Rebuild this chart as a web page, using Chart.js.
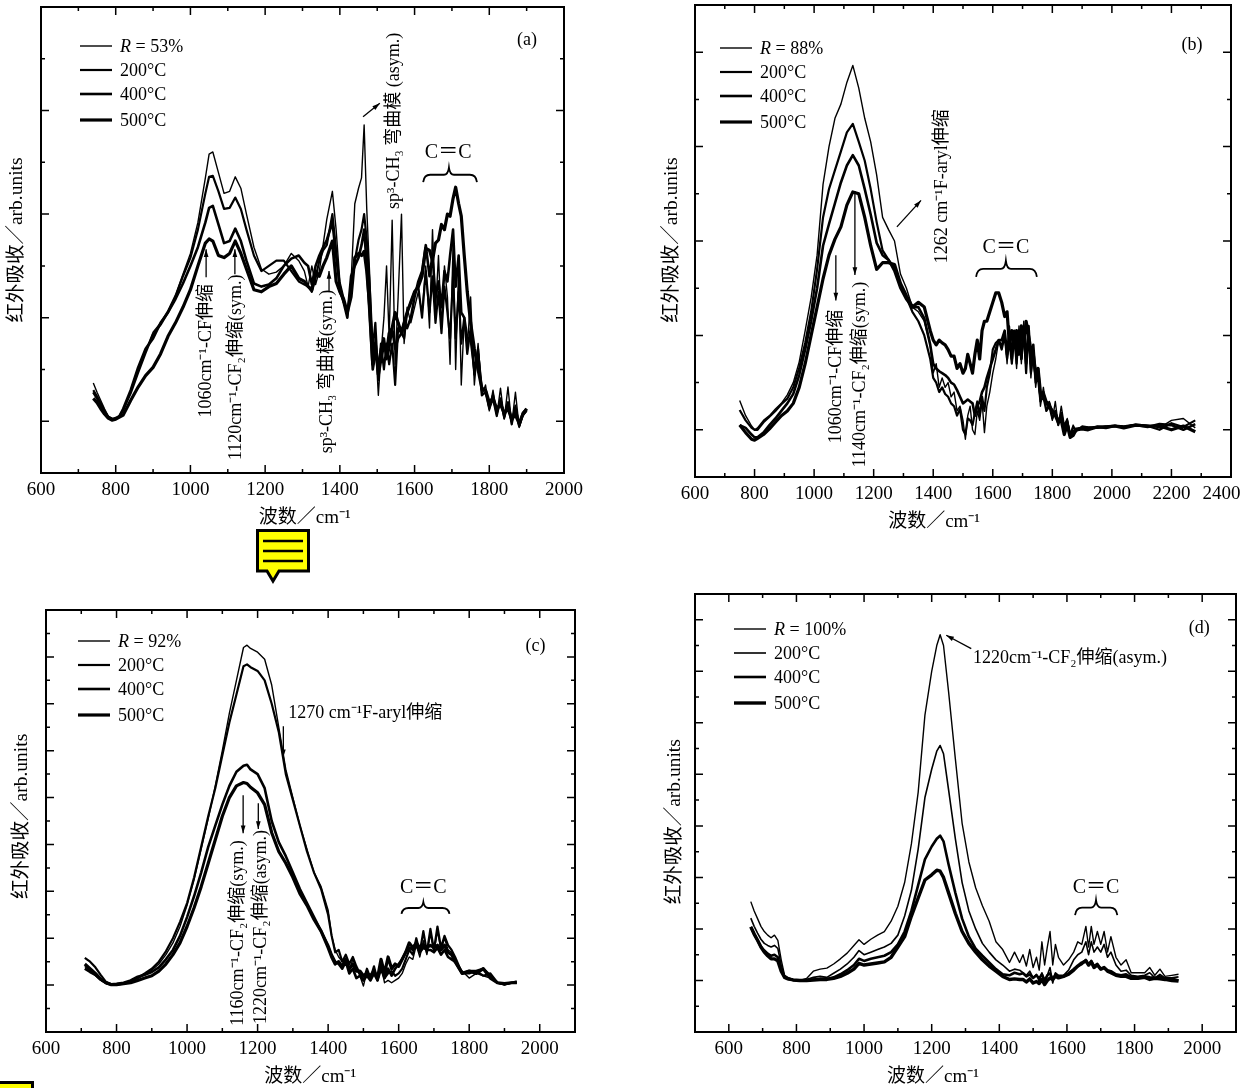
<!DOCTYPE html>
<html>
<head>
<meta charset="utf-8">
<title>IR spectra</title>
<script src="https://cdn.jsdelivr.net/npm/chart.js@4"></script>
<style>
  html, body { margin: 0; padding: 0; background: #fff; }
  body { width: 1251px; height: 1088px; position: relative; overflow: hidden; }
  canvas { position: absolute; }
  svg { position: absolute; left: 0; top: 0; }
</style>
</head>
<body>
<script>
// panel (a)
const aX = [
  740,750,760,770,780,790,800,810,820,840,
  860,880,900,920,940,960,980,1000,1020,1040,
  1050,1060,1075,1090,1105,1120,1135,1150,1170,1190,
  1210,1230,1250,1270,1290,1305,1315,1325,1335,1345,
  1355,1365,1380,1390,1400,1410,1420,1430,1440,1450,
  1458,1465,1472,1480,1488,1495,1503,1510,1518,1525,
  1532,1540,1548,1556,1565,1572,1580,1590,1600,1610,
  1620,1630,1640,1648,1656,1664,1672,1680,1688,1695,
  1703,1710,1718,1725,1733,1741,1750,1760,1770,1780,
  1790,1800,1810,1820,1830,1840,1850,1860,1870,1880,
  1890,1900];
const aR = [
  .37,.28,.20,.12,.05,.03,.02,.04,.10,.28,
  .50,.68,.86,.95,1.07,1.22,1.42,1.62,1.92,2.35,
  2.58,2.60,2.40,2.20,2.22,2.36,2.25,2.00,1.68,1.47,
  1.42,1.44,1.50,1.62,1.55,1.45,1.30,1.50,1.32,1.45,
  1.70,1.95,2.22,1.85,1.35,1.20,1.00,1.35,2.10,2.25,
  2.35,2.86,2.05,1.40,.60,.80,.25,.65,1.00,1.50,
  .80,1.94,.55,1.20,2.00,.75,1.10,.95,1.10,1.25,
  1.05,1.50,.90,1.85,1.05,1.60,.90,1.50,1.20,.55,
  1.70,.50,1.50,.35,1.00,.70,1.20,.35,.75,.25,
  .35,.10,.30,.05,.32,.02,.33,-.03,.28,-.06,
  .05,.10];
const a200 = [
  .30,.24,.17,.10,.04,.02,.02,.05,.11,.27,
  .47,.66,.84,.93,1.05,1.20,1.40,1.58,1.85,2.20,
  2.36,2.37,2.22,2.05,2.06,2.16,2.05,1.85,1.60,1.45,
  1.50,1.55,1.55,1.45,1.35,1.32,1.30,1.25,1.38,1.55,
  1.65,1.70,2.00,1.65,1.25,1.15,1.05,1.30,1.55,1.75,
  1.85,2.00,1.75,1.30,.70,.95,.40,.75,.50,.75,
  .55,.75,.35,.90,.85,.80,1.05,1.15,1.25,1.30,
  1.00,1.45,1.05,1.40,.95,1.25,.85,1.30,1.05,.80,
  1.40,.80,1.25,.75,1.00,.65,.90,.45,.70,.25,
  .28,.12,.22,.05,.22,.03,.18,-.03,.15,-.05,
  .06,.10];
const a400 = [
  .28,.22,.16,.09,.04,.02,.03,.05,.12,.30,
  .52,.70,.80,.95,1.05,1.18,1.33,1.50,1.68,1.92,
  2.06,2.08,1.90,1.72,1.74,1.86,1.74,1.55,1.33,1.30,
  1.32,1.38,1.50,1.57,1.60,1.53,1.50,1.32,1.50,1.60,
  1.68,1.75,1.92,1.60,1.30,1.15,1.00,1.40,1.50,1.58,
  1.70,1.85,1.50,1.00,.50,.65,.55,.70,.80,.60,
  .70,.90,.70,.80,.85,.95,.90,1.00,1.20,1.35,
  1.45,1.70,1.40,1.60,1.20,1.35,1.10,1.45,1.35,1.60,
  1.85,1.30,1.60,1.05,1.00,.80,.80,.50,.65,.30,
  .30,.14,.25,.08,.20,.05,.18,.00,.12,-.04,
  .08,.12];
const a500 = [
  .22,.18,.12,.07,.03,.01,.02,.04,.06,.20,
  .33,.44,.52,.65,.82,.95,1.10,1.27,1.50,1.72,
  1.76,1.74,1.60,1.58,1.62,1.74,1.62,1.47,1.27,1.25,
  1.30,1.33,1.42,1.50,1.38,1.35,1.30,1.27,1.45,1.40,
  1.50,1.58,1.74,1.35,1.25,1.18,1.05,1.20,1.58,1.62,
  1.60,1.64,1.45,1.10,.55,.75,.45,.60,.75,.65,
  .85,.90,1.05,.95,.85,.95,1.05,1.15,1.25,1.30,
  1.40,1.67,1.65,1.55,1.72,1.75,1.90,1.85,2.00,1.98,
  2.15,2.26,2.10,1.98,1.60,1.25,.95,.70,.50,.32,
  .30,.18,.22,.12,.16,.08,.12,.02,.06,-.02,
  .07,.12];

// panel (b)
const bX = [
  750,770,790,800,810,830,850,870,890,910,
  930,950,970,990,1010,1030,1050,1070,1090,1110,
  1130,1150,1170,1190,1210,1230,1250,1270,1290,1310,
  1330,1350,1370,1390,1400,1410,1420,1430,1440,1450,
  1460,1470,1480,1490,1500,1508,1516,1524,1532,1540,
  1548,1556,1564,1572,1580,1590,1600,1610,1620,1630,
  1640,1648,1656,1664,1672,1680,1688,1696,1704,1712,
  1720,1728,1736,1744,1752,1760,1770,1780,1790,1800,
  1810,1820,1830,1840,1850,1860,1870,1880,1900,1920,
  1950,1980,2010,2040,2080,2120,2160,2200,2240,2280];
const bR = [
  .31,.15,.04,.00,.02,.10,.15,.22,.28,.37,
  .50,.72,1.05,1.40,1.85,2.60,3.00,3.30,3.45,3.68,
  3.86,3.62,3.30,3.05,2.70,2.25,2.12,2.00,1.65,1.50,
  1.30,1.25,1.15,.90,.60,.70,.45,.55,.45,.50,
  .35,.40,.20,.25,.10,-.10,.15,.25,.00,-.05,
  .20,.10,.30,-.03,.25,.40,.60,.75,.95,.90,
  1.05,.70,1.10,.80,1.05,.65,1.10,.70,1.15,.65,
  1.10,.55,.85,.45,.65,.25,.45,.20,.30,.10,
  .30,.05,.25,.05,.12,-.05,.05,-.02,.04,.03,
  .02,.04,.05,.04,.06,.05,.02,.10,.12,.02];
const b200 = [
  .21,.10,.02,.00,.00,.08,.14,.20,.27,.33,
  .45,.66,.92,1.25,1.70,2.25,2.55,2.75,2.95,3.15,
  3.24,3.05,2.85,2.55,2.20,1.90,1.80,1.72,1.55,1.40,
  1.25,1.15,1.00,.75,.55,.50,.40,.45,.38,.35,
  .28,.25,.15,.22,.00,-.05,.12,.10,.05,.18,
  .30,.15,.35,.20,.45,.60,.85,.92,.95,.85,
  1.00,.75,.95,.70,1.00,.70,1.05,.75,1.05,.60,
  1.05,.60,.80,.50,.55,.30,.35,.20,.25,.12,
  .20,.05,.18,.00,.10,-.08,.03,.00,.03,.02,
  .02,.03,.04,.03,.05,.04,.00,.07,.03,.10];
const b400 = [
  .05,.02,-.05,-.08,-.08,-.03,.05,.12,.20,.28,
  .38,.58,.85,1.15,1.50,1.95,2.18,2.40,2.62,2.80,
  2.91,2.80,2.55,2.28,1.98,1.85,1.80,1.68,1.50,1.38,
  1.30,1.30,1.18,.90,.70,.65,.62,.60,.58,.55,
  .50,.48,.42,.35,.28,.30,.32,.30,.28,.15,
  .25,.30,.40,.45,.55,.65,.75,.85,.95,.95,
  1.05,.80,1.05,.75,1.05,.80,1.05,.75,1.08,.70,
  1.10,.70,.90,.55,.65,.35,.40,.30,.28,.18,
  .18,.10,.14,.02,.08,-.05,-.02,.01,.02,.02,
  .03,.02,.04,.03,.05,.03,.06,.05,.00,.06];
const b500 = [
  .05,-.03,-.10,-.11,-.09,-.05,.01,.08,.15,.20,
  .28,.45,.70,1.00,1.30,1.60,1.85,2.02,2.15,2.38,
  2.52,2.50,2.25,1.95,1.70,1.77,1.77,1.75,1.55,1.42,
  1.30,1.35,1.30,1.05,.95,.90,.95,.92,.90,.85,
  .78,.78,.65,.70,.60,.65,.80,.70,.60,.80,
  .95,.75,1.05,1.15,1.15,1.25,1.35,1.45,1.45,1.35,
  1.20,1.25,.90,1.05,.90,1.05,.80,1.10,.90,1.15,
  1.00,.85,.80,.60,.65,.40,.35,.28,.25,.20,
  .15,.08,.10,-.05,.05,-.08,-.06,.00,.01,.00,
  .03,.03,.04,.02,.05,.04,.04,.00,.04,-.02];

// panel (c)
const cX = [
  710,725,740,755,770,785,800,820,840,860,
  880,900,920,940,960,980,1000,1020,1040,1060,
  1080,1100,1120,1140,1160,1170,1180,1200,1220,1240,
  1260,1280,1300,1320,1340,1360,1380,1400,1410,1420,
  1430,1440,1450,1460,1470,1480,1490,1500,1510,1520,
  1530,1540,1550,1560,1570,1580,1590,1600,1610,1620,
  1630,1640,1650,1660,1670,1680,1690,1700,1710,1720,
  1730,1740,1750,1760,1780,1800,1820,1840,1860,1880,
  1900,1920,1935];
const cR = [
  .40,.30,.20,.10,.03,.00,.02,.04,.08,.14,
  .22,.32,.45,.65,.90,1.25,1.70,2.25,2.90,3.55,
  4.25,5.00,5.80,6.50,7.20,7.25,7.18,7.10,6.95,6.40,
  5.50,4.60,4.00,3.40,2.90,2.40,2.10,1.60,1.05,.75,
  .60,.50,.55,.30,.55,.35,.20,-.02,.30,.10,
  .30,.15,.40,.05,.10,.05,.10,.15,.25,.45,
  .60,.55,.85,.60,.95,.65,1.10,.70,1.15,.75,
  1.00,.75,.70,.55,.30,.15,.25,.20,.15,.05,
  .00,.05,.05];
const c200 = [
  .58,.50,.38,.22,.07,.02,.01,.03,.07,.16,
  .25,.35,.50,.72,1.00,1.35,1.75,2.30,2.95,3.60,
  4.20,4.90,5.60,6.20,6.80,6.84,6.78,6.70,6.50,6.00,
  5.40,4.50,3.95,3.40,2.85,2.40,2.05,1.50,1.05,.70,
  .75,.50,.65,.45,.60,.40,.25,.10,.35,.15,
  .40,.10,.45,.15,.25,.30,.20,.25,.35,.55,
  .75,.65,1.00,.70,1.15,.70,1.20,.75,1.25,.80,
  1.05,.85,.75,.60,.25,.25,.30,.20,.25,.05,
  .02,.05,.08];
const c400 = [
  .35,.28,.22,.12,.05,.02,.03,.05,.10,.18,
  .22,.28,.38,.55,.75,1.05,1.45,1.90,2.40,2.95,
  3.40,3.85,4.25,4.55,4.68,4.70,4.60,4.50,4.20,3.50,
  3.05,2.75,2.40,2.05,1.75,1.45,1.15,.85,.65,.50,
  .45,.35,.50,.25,.35,.15,.20,.10,.20,.10,
  .25,.10,.35,.15,.35,.20,.35,.45,.55,.70,
  .80,.75,.85,.70,.80,.75,.75,.70,.80,.65,
  .75,.60,.55,.50,.25,.30,.30,.35,.20,.05,
  .02,.05,.05];
const c500 = [
  .45,.35,.25,.13,.05,.01,.01,.03,.05,.10,
  .15,.20,.30,.45,.65,.90,1.25,1.65,2.10,2.60,
  3.10,3.60,4.00,4.25,4.32,4.30,4.22,4.10,3.85,3.25,
  2.85,2.60,2.30,1.95,1.70,1.40,1.15,.80,.60,.45,
  .50,.40,.55,.35,.45,.30,.30,.20,.25,.20,
  .30,.15,.55,.25,.60,.35,.45,.40,.55,.70,
  .90,.80,.90,.80,.85,.80,.85,.80,.85,.75,
  .85,.70,.65,.50,.25,.30,.25,.35,.15,.05,
  .03,.05,.05];

// panel (d)
const dX = [
  665,675,685,695,705,715,725,735,745,755,
  765,775,790,810,830,850,870,890,910,930,
  950,970,985,1000,1020,1040,1060,1080,1100,1120,
  1140,1160,1180,1200,1215,1225,1235,1250,1270,1290,
  1310,1330,1350,1370,1390,1410,1430,1445,1460,1470,
  1480,1490,1500,1510,1518,1526,1534,1542,1550,1558,
  1566,1575,1590,1605,1620,1632,1644,1656,1664,1672,
  1680,1690,1700,1710,1720,1730,1745,1760,1775,1790,
  1810,1830,1845,1860,1875,1890,1910,1930];
const dR = [
  1.53,1.35,1.20,1.05,.95,.88,.83,.88,.78,.40,
  .10,.06,.02,.00,.04,.18,.22,.24,.32,.42,
  .53,.68,.79,.70,.80,.88,.95,1.15,1.44,1.90,
  2.65,3.65,5.15,6.00,6.50,6.71,6.50,5.60,4.30,3.05,
  2.30,1.80,1.45,1.15,.75,.60,.35,.55,.35,.50,
  .28,.60,.25,.45,.20,.75,.30,.65,.95,.30,
  .70,.45,.30,.40,.55,.75,.70,1.05,.65,1.05,
  .70,.95,.70,.95,.55,.85,.45,.30,.40,.15,
  .15,.15,.25,.10,.22,.08,.10,.12];
const d200 = [
  1.21,1.05,.92,.80,.72,.68,.65,.68,.62,.30,
  .08,.04,.02,.00,.02,.06,.08,.06,.14,.22,
  .32,.45,.58,.50,.55,.60,.65,.72,.88,1.25,
  1.75,2.55,3.55,4.10,4.45,4.56,4.40,3.70,2.75,1.90,
  1.35,1.00,.72,.55,.40,.30,.18,.22,.20,.15,
  .10,.18,.05,.12,-.02,.15,-.05,.10,.25,-.05,
  .15,.10,.10,.20,.40,.50,.55,.75,.50,.75,
  .55,.65,.55,.70,.45,.55,.30,.18,.20,.10,
  .08,.10,.15,.05,.12,.05,.05,.07];
const d400 = [
  1.04,.90,.78,.65,.58,.52,.48,.50,.45,.22,
  .06,.03,.01,.00,.00,.02,.03,.03,.06,.12,
  .20,.30,.42,.38,.42,.45,.48,.55,.70,.95,
  1.35,1.85,2.35,2.60,2.75,2.81,2.70,2.25,1.70,1.20,
  .85,.62,.48,.35,.22,.12,.10,.15,.12,.14,
  .08,.12,.05,.10,.04,.12,.00,.10,.14,.02,
  .12,.08,.08,.14,.22,.28,.32,.40,.30,.38,
  .28,.32,.22,.25,.20,.18,.12,.10,.12,.06,
  .06,.08,.06,.05,.08,.02,.04,.00];
const d500 = [
  1.04,.90,.78,.65,.55,.48,.42,.42,.38,.18,
  .06,.03,.01,.00,.00,.01,.02,.02,.04,.08,
  .14,.22,.33,.30,.32,.34,.36,.45,.65,.85,
  1.25,1.60,1.95,2.05,2.14,2.12,2.00,1.70,1.30,.95,
  .72,.55,.40,.28,.18,.08,.02,.03,.02,.02,
  -.03,.03,-.05,-.02,-.06,.02,-.08,.00,.05,.02,
  .08,.05,.08,.12,.20,.28,.34,.38,.30,.36,
  .25,.30,.22,.25,.18,.15,.10,.08,.08,.04,
  .04,.06,.02,.04,.03,.02,.00,-.01];

const SERIF = '"Liberation Serif","Noto Sans CJK SC"';
const temps = ['200°C', '400°C', '500°C'];
const xTitle = '波数／cm⁻¹';
const yTitle = '红外吸收／arb.units';

// plot box (page pixels), axis ranges, and notes in data coordinates
const panels = [
  {
    id: 'a', box: [41, 7, 564, 473], xr: [600, 2000], yr: [-0.5, 4],
    x: aX, series: [aR, a200, a400, a500], ratio: 'R = 53%', widths: [1.4, 2.2, 2.6, 3.2],
    legend: [39, 39], tag: [1901, 3.68], xTitleAt: 1306, yTitleAt: [-24, 1.75],
    texts: [
      ['1060cm⁻¹-CF伸缩', 1042, .68, true],
      ['1120cm⁻¹-CF₂伸缩(sym.)', 1122, .52, true],
      ['sp³-CH₃ 弯曲模(sym.)', 1366, .48, true],
      ['sp³-CH₃ 弯曲模 (asym.)', 1545, 2.90, true],
      ['C＝C', 1690, 2.59, false]
    ],
    arrows: [[1042, 1.39, 1042, 1.66], [1119, 1.42, 1119, 1.66], [1371, 1.25, 1371, 1.45], [1462, 2.94, 1507, 3.07]],
    brace: [1623, 1767, 1692, 2.31, 2.45]
  },
  {
    id: 'b', box: [695, 5, 1231, 477], xr: [600, 2400], yr: [-0.5, 4.5],
    x: bX, series: [bR, b200, b400, b500], ratio: 'R = 88%', widths: [1.4, 2.2, 2.6, 3.2],
    legend: [25, 43], tag: [2269, 4.07], xTitleAt: 1403, yTitleAt: [-23, 2.01],
    texts: [
      ['1262 cm⁻¹F-aryl伸缩', 1429, 2.58, true],
      ['1060cm⁻¹-CF伸缩', 1073, .565, true],
      ['1140cm⁻¹-CF₂伸缩(sym.)', 1154, .586, true],
      ['C＝C', 1644, 1.93, false]
    ],
    arrows: [[1073, 1.85, 1073, 1.37], [1137, 2.53, 1137, 1.64], [1278, 2.15, 1359, 2.43]],
    brace: [1544, 1748, 1644, 1.62, 1.79]
  },
  {
    id: 'c', box: [46, 610, 575, 1032], xr: [600, 2100], yr: [-1, 8],
    x: cX, series: [cR, c200, c400, c500], ratio: 'R = 92%', widths: [1.4, 2.2, 2.6, 3.2],
    legend: [32, 31], tag: [1988, 7.22], xTitleAt: 1349, yTitleAt: [-24, 3.6],
    texts: [
      ['1160cm⁻¹-CF₂伸缩(sym.)', 1146, 1.11, true],
      ['1220cm⁻¹-CF₂伸缩(asym.)', 1211, 1.24, true],
      ['C＝C', 1670, 2.07, false]
    ],
    leftTexts: [['1270 cm⁻¹F-aryl伸缩', 1287, 5.79]],
    arrows: [[1273, 5.52, 1273, 4.86], [1159, 4.05, 1159, 3.24], [1202, 3.88, 1202, 3.33]],
    brace: [1608, 1744, 1670, 1.52, 1.77]
  },
  {
    id: 'd', box: [695, 594, 1236, 1032], xr: [500, 2100], yr: [-1, 7.5],
    x: dX, series: [dR, d200, d400, d500], ratio: 'R = 100%', widths: [1.4, 1.6, 2.6, 3.4],
    legend: [39, 35], tag: [1991, 6.83], xTitleAt: 1204, yTitleAt: [-20, 3.08],
    texts: [['C＝C', 1686, 1.79, false]],
    leftTexts: [['1220cm⁻¹-CF₂伸缩(asym.)', 1322, 6.25]],
    arrows: [[1317, 6.44, 1243, 6.70]],
    brace: [1624, 1749, 1686, 1.27, 1.56]
  }
];

function drawArrow(ctx, x1, y1, x2, y2) {
  const a = Math.atan2(y2 - y1, x2 - x1);
  ctx.beginPath();
  ctx.moveTo(x1, y1);
  ctx.lineTo(x2, y2);
  ctx.lineWidth = 1.3;
  ctx.stroke();
  ctx.beginPath();
  ctx.moveTo(x2, y2);
  ctx.lineTo(x2 - 8 * Math.cos(a - .3), y2 - 8 * Math.sin(a - .3));
  ctx.lineTo(x2 - 8 * Math.cos(a + .3), y2 - 8 * Math.sin(a + .3));
  ctx.closePath();
  ctx.fill();
}

function drawBrace(ctx, x1, x2, cx, base, tip) {
  const mid = base - (base - tip) * .5;
  ctx.beginPath();
  ctx.moveTo(x1, base);
  ctx.quadraticCurveTo(x1 + 1, mid, x1 + 7, mid);
  ctx.lineTo(cx - 5, mid);
  ctx.quadraticCurveTo(cx - 1, mid, cx, tip);
  ctx.quadraticCurveTo(cx + 1, mid, cx + 5, mid);
  ctx.lineTo(x2 - 7, mid);
  ctx.quadraticCurveTo(x2 - 1, mid, x2, base);
  ctx.lineWidth = 1.8;
  ctx.stroke();
}

// frame, inward ticks, legend, axis titles and notes
function decorFor(p) {
  return {
    id: 'decor' + p.id,
    afterDatasetsDraw(chart) {
      const ctx = chart.ctx;
      const { left, right, top, bottom } = chart.chartArea;
      const xs = chart.scales.x, ys = chart.scales.y;
      ctx.save();
      ctx.strokeStyle = '#000';
      ctx.fillStyle = '#000';

      ctx.lineWidth = 1.5;
      ctx.beginPath();
      xs.ticks.forEach(t => {
        const px = xs.getPixelForValue(t.value);
        const len = t.value % 200 === 0 ? 8 : 4;
        ctx.moveTo(px, bottom);
        ctx.lineTo(px, bottom - len);
        ctx.moveTo(px, top);
        ctx.lineTo(px, top + len);
      });
      ys.ticks.forEach(t => {
        const py = ys.getPixelForValue(t.value);
        const len = Number.isInteger(t.value) ? 8 : 4;
        ctx.moveTo(left, py);
        ctx.lineTo(left + len, py);
        ctx.moveTo(right, py);
        ctx.lineTo(right - len, py);
      });
      ctx.stroke();
      ctx.lineWidth = 2;
      ctx.strokeRect(left, top, right - left, bottom - top);

      // legend
      ctx.textBaseline = 'middle';
      ctx.textAlign = 'left';
      const gaps = [0, 24, 48, 74];
      chart.data.datasets.forEach((ds, i) => {
        const ly = top + p.legend[1] + gaps[i];
        const lx = left + p.legend[0];
        ctx.beginPath();
        ctx.moveTo(lx, ly);
        ctx.lineTo(lx + 32, ly);
        ctx.lineWidth = ds.borderWidth;
        ctx.stroke();
        if (i === 0) {
          ctx.font = 'italic 18px ' + SERIF;
          ctx.fillText('R', lx + 40, ly + 1);
          const w = ctx.measureText('R').width;
          ctx.font = '18px ' + SERIF;
          ctx.fillText(ds.label.slice(1), lx + 40 + w, ly + 1);
        } else {
          ctx.font = '18px ' + SERIF;
          ctx.fillText(ds.label, lx + 40, ly + 1);
        }
      });

      // panel letter
      ctx.textAlign = 'center';
      ctx.font = '18px ' + SERIF;
      ctx.fillText('(' + p.id + ')', xs.getPixelForValue(p.tag[0]), ys.getPixelForValue(p.tag[1]));

      // axis titles sit off centre in panels (b) and (d), so they are placed by hand
      ctx.font = '19px ' + SERIF;
      ctx.fillText(xTitle, xs.getPixelForValue(p.xTitleAt), bottom + 45);
      ctx.save();
      ctx.translate(left + p.yTitleAt[0], ys.getPixelForValue(p.yTitleAt[1]));
      ctx.rotate(-Math.PI / 2);
      ctx.font = '19.5px ' + SERIF;
      ctx.fillText(yTitle, 0, 0);
      ctx.restore();

      // notes
      p.texts.forEach(([txt, x, y, turned]) => {
        ctx.save();
        ctx.translate(xs.getPixelForValue(x), ys.getPixelForValue(y));
        if (turned) ctx.rotate(-Math.PI / 2);
        ctx.font = (turned ? '18px ' : '20px ') + SERIF;
        ctx.fillText(txt, 0, 0);
        ctx.restore();
      });
      (p.leftTexts || []).forEach(([txt, x, y]) => {
        ctx.textAlign = 'left';
        ctx.font = '18px ' + SERIF;
        ctx.fillText(txt, xs.getPixelForValue(x), ys.getPixelForValue(y));
      });
      p.arrows.forEach(([x1, y1, x2, y2]) => {
        drawArrow(ctx, xs.getPixelForValue(x1), ys.getPixelForValue(y1), xs.getPixelForValue(x2), ys.getPixelForValue(y2));
      });
      const b = p.brace;
      drawBrace(ctx, xs.getPixelForValue(b[0]), xs.getPixelForValue(b[1]), xs.getPixelForValue(b[2]), ys.getPixelForValue(b[3]), ys.getPixelForValue(b[4]));
      ctx.restore();
    }
  };
}

function makePanel(p) {
  const [L, T, R, B] = p.box;
  const canvas = document.createElement('canvas');
  canvas.width = R - L + 64;
  canvas.height = B - T + 66;
  canvas.style.left = (L - 40) + 'px';
  canvas.style.top = (T - 6) + 'px';
  document.body.appendChild(canvas);

  const names = [p.ratio].concat(temps);
  return new Chart(canvas, {
    type: 'line',
    data: {
      datasets: p.series.map((vals, i) => ({
        label: names[i],
        data: vals.map((v, k) => ({ x: p.x[k], y: v })),
        borderColor: '#000',
        borderWidth: p.widths[i],
        pointRadius: 0,
        tension: 0,
        borderJoinStyle: 'round',
        fill: false
      }))
    },
    options: {
      responsive: false,
      animation: false,
      layout: { padding: { top: 6, right: 24, left: 0, bottom: 0 } },
      plugins: { legend: { display: false }, tooltip: { enabled: false } },
      scales: {
        x: {
          type: 'linear', min: p.xr[0], max: p.xr[1],
          grid: { display: false }, border: { display: false },
          afterFit: s => { s.height = 60; s.paddingLeft = 0; s.paddingRight = 0; },
          ticks: {
            stepSize: 100, autoSkip: false, maxRotation: 0, minRotation: 0, padding: -2, color: '#000',
            font: { family: SERIF, size: 19 },
            callback: v => {
              if (v % 200 !== 0) return '';
              return v === 2400 ? '2400\u2003' : String(v);
            }
          }
        },
        y: {
          min: p.yr[0], max: p.yr[1],
          grid: { display: false }, border: { display: false },
          afterFit: s => { s.width = 40; },
          ticks: { display: false, stepSize: 0.5 }
        }
      }
    },
    plugins: [decorFor(p)]
  });
}

panels.forEach(makePanel);
</script>
<svg width="1251" height="1088" viewBox="0 0 1251 1088">
  <defs>
    <g id="note">
      <path d="M257.5 530.5H308.5V571H279L273 581L267 571H257.5Z" fill="#ff0" stroke="#000" stroke-width="3"/>
      <path d="M263 541H303M263 551H303M263 561H303" stroke="#000" stroke-width="2.5"/>
    </g>
  </defs>
  <use href="#note"/>
  <use href="#note" x="-276" y="552"/>
</svg>
</body>
</html>
